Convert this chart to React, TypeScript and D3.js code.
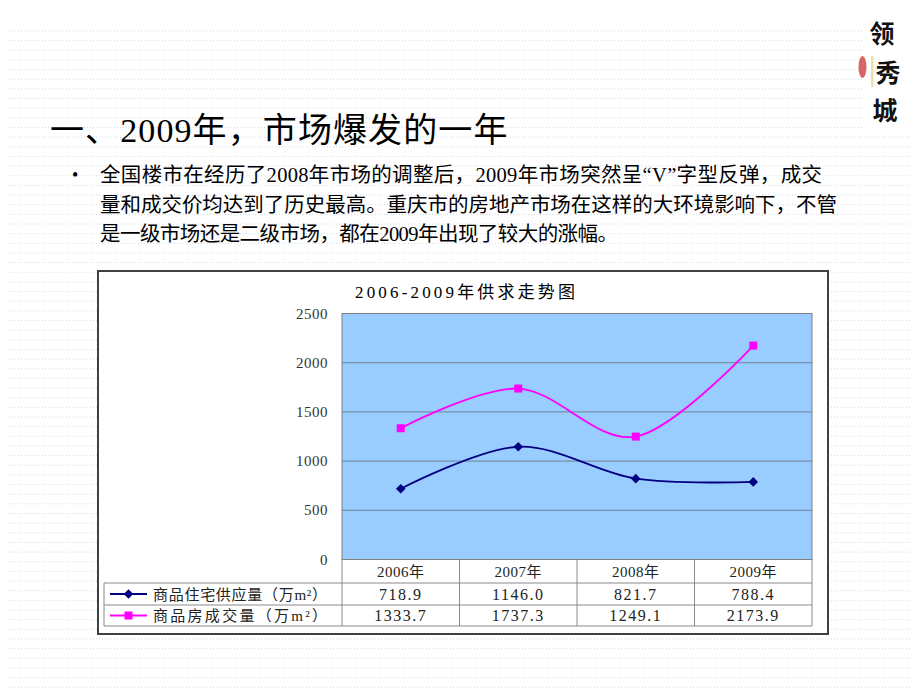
import React from 'react';
import * as d3 from 'd3';

const categories = ['2006年', '2007年', '2008年', '2009年'];
const supplyValues = [718.9, 1146.0, 821.7, 788.4];
const salesValues = [1333.7, 1737.3, 1249.1, 2173.9];
const yTicks = [0, 500, 1000, 1500, 2000, 2500];
const seriesNames = ['商品住宅供应量（万m²）', '商品房成交量（万m²）'];
const seriesColors = ['#000080', '#FF00FF'];
const pageTitle = '一、2009年，市场爆发的一年';
const chartTitle = '2006-2009年供求走势图';
const bulletLines = [
  '全国楼市在经历了2008年市场的调整后，2009年市场突然呈“V”字型反弹，成交',
  '量和成交价均达到了历史最高。重庆市的房地产市场在这样的大环境影响下，不管',
  '是一级市场还是二级市场，都在2009年出现了较大的涨幅。',
];
const bulletWidths = [722, 737, 518];
const logoChars = ['领', '秀', '城'];

const W = 920;
const H = 690;
const SERIF = '"Liberation Serif", "Noto Sans CJK SC", serif';
const CJK = '"Noto Sans CJK SC", sans-serif';

export default function App() {
  const plot = { left: 342, right: 812, top: 313.5, bottom: 559.5 };
  const x = d3.scaleBand<string>().domain(categories).range([plot.left, plot.right]).padding(0);
  const y = d3.scaleLinear().domain([0, 2500]).range([plot.bottom, plot.top]);
  const cx = (c: string) => (x(c) as number) + x.bandwidth() / 2;
  const line = d3
    .line<number>()
    .x((_, i) => cx(categories[i]))
    .y((d) => y(d))
    .curve(d3.curveCatmullRom.alpha(0));

  const series = [supplyValues, salesValues];

  const rowTop = 583;
  const rowMid = 605;
  const rowBot = 626;
  const tableLeft = 104;

  const diamond = (px: number, py: number, r = 4.8) =>
    `M${px},${py - r}L${px + r},${py}L${px},${py + r}L${px - r},${py}Z`;
  const square = (px: number, py: number, r = 4) =>
    `M${px - r},${py - r}H${px + r}V${py + r}H${px - r}Z`;

  const rules: number[] = [];
  for (let yy = 31; yy < H; yy += 9.65) rules.push(yy);

  const bands = categories.map((c) => x(c) as number);

  return (
    <svg
      width={W}
      height={H}
      style={{ position: 'absolute', left: 0, top: 0, display: 'block', background: '#fff' }}
    >
      {rules.map((ry, i) => (
        <line
          key={i}
          x1={9}
          x2={ry < 130 ? 862 : 912}
          y1={ry}
          y2={ry}
          stroke="#d3dbe0"
          strokeWidth={1}
          strokeDasharray="1 2"
        />
      ))}

      {/* logo */}
      <g fontFamily={CJK} fontWeight="bold" fill="#111" textAnchor="middle">
        {logoChars.map((ch, i) => (
          <text key={ch} x={[882, 888, 885][i]} y={[43, 82, 120][i]} fontSize={25}>
            {ch}
          </text>
        ))}
        <ellipse cx={862.5} cy={67} rx={4} ry={11} fill="#d24b4b" opacity={0.85} />
        <rect x={871} y={56} width={2.5} height={31} fill="#eedfa4" />
      </g>

      {/* page title */}
      <text x={50} y={142} fontFamily={SERIF} fontSize={34} letterSpacing={1.1} fill="#000">
        {pageTitle}
      </text>

      {/* bullet */}
      <text x={72} y={181} fontFamily={SERIF} fontSize={18} fill="#000">
        •
      </text>
      {bulletLines.map((t, i) => (
        <text
          key={i}
          x={100}
          y={182 + i * 29.7}
          fontFamily={SERIF}
          fontSize={20.5}
          fill="#000"
          textLength={bulletWidths[i]}
          lengthAdjust="spacing"
        >
          {t}
        </text>
      ))}

      {/* chart frame */}
      <rect x={98} y={271} width={730} height={363} fill="#fff" stroke="#404040" strokeWidth={2} />
      <text
        x={465}
        y={298}
        textAnchor="middle"
        fontFamily={SERIF}
        fontSize={17}
        fill="#000"
        textLength={220}
        lengthAdjust="spacing"
      >
        {chartTitle}
      </text>

      {/* plot area */}
      <rect
        x={plot.left}
        y={plot.top}
        width={plot.right - plot.left}
        height={plot.bottom - plot.top}
        fill="#99CCFF"
        stroke="#808080"
        strokeWidth={1}
      />
      {yTicks
        .filter((t) => t > 0 && t < 2500)
        .map((t) => (
          <line key={t} x1={plot.left} x2={plot.right} y1={y(t)} y2={y(t)} stroke="#6f8296" strokeWidth={1} />
        ))}
      {yTicks.map((t) => (
        <text
          key={t}
          x={328}
          y={y(t) + 5}
          textAnchor="end"
          fontFamily={SERIF}
          fontSize={15}
          letterSpacing={0.5}
          fill="#333"
        >
          {t}
        </text>
      ))}

      {/* series */}
      {series.map((vals, si) => (
        <g key={si}>
          <path d={line(vals) || ''} fill="none" stroke={seriesColors[si]} strokeWidth={1.8} />
          {vals.map((v, i) => (
            <path
              key={i}
              d={si === 0 ? diamond(cx(categories[i]), y(v)) : square(cx(categories[i]), y(v))}
              fill={seriesColors[si]}
            />
          ))}
        </g>
      ))}

      {/* data table */}
      <g stroke="#8a8a8a" strokeWidth={1}>
        <line x1={tableLeft} x2={plot.right} y1={rowTop} y2={rowTop} />
        <line x1={tableLeft} x2={plot.right} y1={rowMid} y2={rowMid} />
        <line x1={tableLeft} x2={plot.right} y1={rowBot} y2={rowBot} />
        <line x1={tableLeft} x2={tableLeft} y1={rowTop} y2={rowBot} />
        {bands.map((bx, i) => (
          <line key={i} x1={bx} x2={bx} y1={plot.bottom} y2={rowBot} />
        ))}
        <line x1={plot.right} x2={plot.right} y1={plot.bottom} y2={rowBot} />
      </g>
      {categories.map((c) => (
        <text
          key={c}
          x={cx(c)}
          y={577}
          textAnchor="middle"
          fontFamily={SERIF}
          fontSize={15}
          letterSpacing={0.5}
          fill="#222"
        >
          {c}
        </text>
      ))}
      {series.map((vals, si) => {
        const ry = si === 0 ? (rowTop + rowMid) / 2 : (rowMid + rowBot) / 2;
        return (
          <g key={si}>
            <line x1={110} x2={147} y1={ry} y2={ry} stroke={seriesColors[si]} strokeWidth={1.8} />
            <path d={si === 0 ? diamond(128.5, ry) : square(128.5, ry)} fill={seriesColors[si]} />
            <text
              x={153}
              y={ry + 5.5}
              fontFamily={SERIF}
              fontSize={15}
              fill="#222"
              textLength={174}
              lengthAdjust="spacing"
            >
              {seriesNames[si]}
            </text>
            {vals.map((v, i) => (
              <text
                key={i}
                x={cx(categories[i])}
                y={ry + 5.5}
                textAnchor="middle"
                fontFamily={SERIF}
                fontSize={16}
                letterSpacing={1.5}
                fill="#222"
              >
                {v.toFixed(1)}
              </text>
            ))}
          </g>
        );
      })}
    </svg>
  );
}
